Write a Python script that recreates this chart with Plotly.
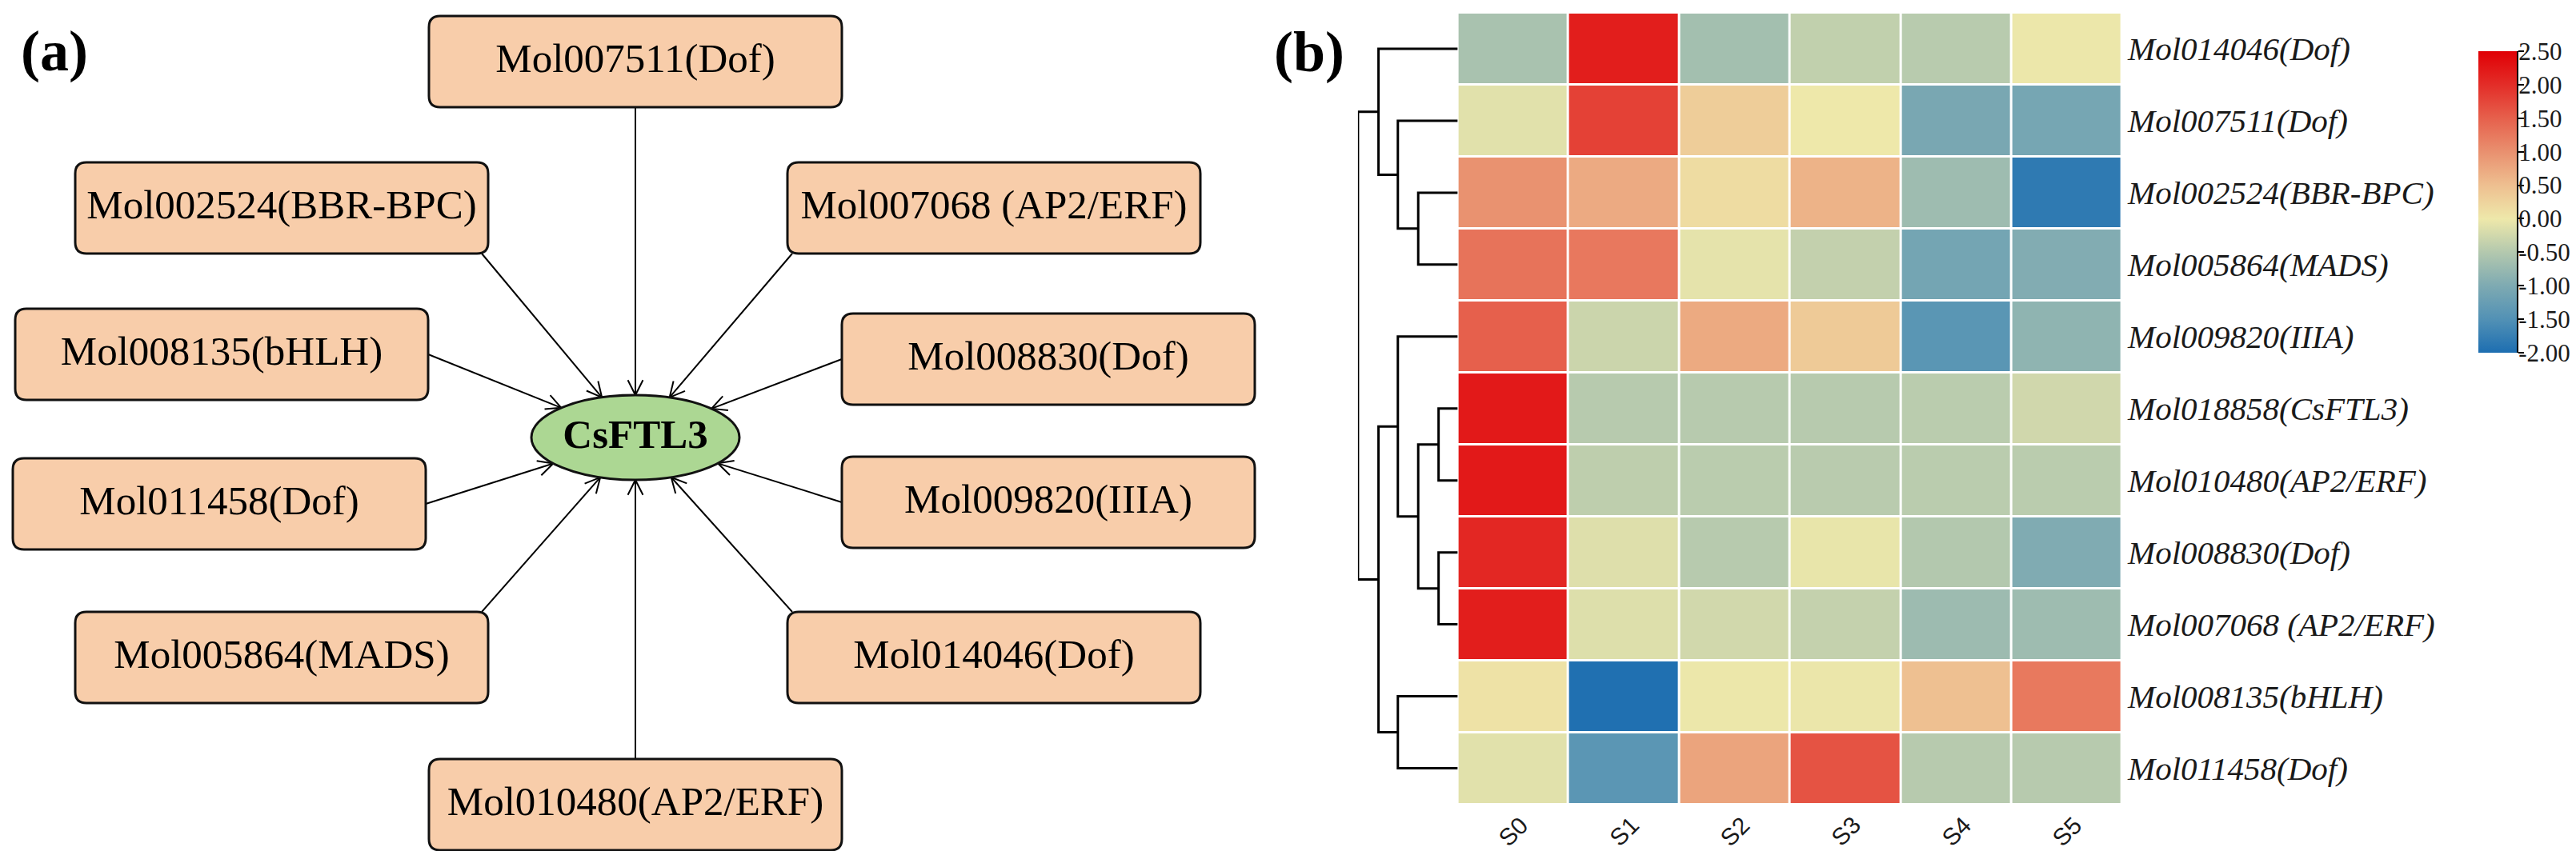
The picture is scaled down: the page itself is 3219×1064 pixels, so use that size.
import plotly.graph_objects as go

W, H = 3219, 1064

# ---- panel (a): regulators pointing at CsFTL3 ----
hub = "CsFTL3"
regulators = [
    "Mol007511(Dof)", "Mol002524(BBR-BPC)", "Mol007068 (AP2/ERF)",
    "Mol008135(bHLH)", "Mol008830(Dof)", "Mol011458(Dof)",
    "Mol009820(IIIA)", "Mol005864(MADS)", "Mol014046(Dof)",
    "Mol010480(AP2/ERF)",
]

# ---- panel (b): clustered expression heatmap ----
samples = ["S0", "S1", "S2", "S3", "S4", "S5"]
genes = [
    "Mol014046(Dof)", "Mol007511(Dof)", "Mol002524(BBR-BPC)", "Mol005864(MADS)",
    "Mol009820(IIIA)", "Mol018858(CsFTL3)", "Mol010480(AP2/ERF)", "Mol008830(Dof)",
    "Mol007068 (AP2/ERF)", "Mol008135(bHLH)", "Mol011458(Dof)",
]
expr = [
    [-0.60, 2.17, -0.65, -0.38, -0.46, -0.02],
    [-0.11, 1.80, 0.33, 0.00, -1.06, -1.09],
    [0.98, 0.72, 0.15, 0.63, -0.70, -1.83],
    [1.30, 1.25, -0.08, -0.37, -1.11, -0.96],
    [1.50, -0.30, 0.73, 0.37, -1.41, -0.84],
    [2.22, -0.47, -0.47, -0.47, -0.44, -0.26],
    [2.22, -0.41, -0.44, -0.45, -0.44, -0.44],
    [2.07, -0.14, -0.47, -0.05, -0.50, -0.98],
    [2.17, -0.15, -0.25, -0.36, -0.71, -0.70],
    [0.07, -1.97, -0.02, -0.03, 0.49, 1.24],
    [-0.11, -1.40, 0.79, 1.63, -0.47, -0.47],
]
# row dendrogram: (left, right, height); leaves are row indices, new clusters numbered from 11
merges = [
    (5, 6, 0.96), (7, 8, 0.96), (2, 3, 1.98), (11, 12, 1.98),
    (1, 13, 3.0), (4, 14, 3.0), (9, 10, 3.0),
    (0, 15, 3.97), (16, 17, 3.97), (18, 19, 5.0),
]
cbar_ticks = [2.5, 2.0, 1.5, 1.0, 0.5, 0.0, -0.5, -1.0, -1.5, -2.0]

colorscale = [
    [0.000, "#1d6eb1"], [0.111, "#5291b5"], [0.222, "#7eaab2"],
    [0.333, "#b3c8ae"], [0.444, "#eee8aa"], [0.556, "#eebf90"],
    [0.667, "#e9906f"], [0.778, "#e6604c"], [0.889, "#e32d28"],
    [1.000, "#e00005"],
]

# ---- layout of the network (pixel canvas) ----
node_xy = [(786, 69), (344, 252), (1234, 252), (269, 435), (1302, 441),
           (266, 622), (1302, 620), (344, 814), (1234, 814), (786, 998)]
node_side = ["b", "br", "bl", "r", "l", "r", "l", "tr", "tl", "t"]
HUB_XY = (786, 539)
HUB_R = (130, 53)
BOX_W, BOX_H = 516, 114

SERIF = "Liberation Serif"


def anchor_pt(cx, cy, side):
    x0, x1 = cx - BOX_W / 2, cx + BOX_W / 2
    y0, y1 = cy - BOX_H / 2, cy + BOX_H / 2
    return {"b": (cx, y1), "t": (cx, y0), "r": (x1, cy), "l": (x0, cy),
            "br": (x1 - 8, y1), "bl": (x0 + 6, y1),
            "tr": (x1 - 8, y0), "tl": (x0 + 6, y0)}[side]


def hub_edge(px, py):
    hx, hy = HUB_XY
    rx, ry = HUB_R
    dx, dy = px - hx, py - hy
    t = 1 / ((dx / rx) ** 2 + (dy / ry) ** 2) ** 0.5
    return hx + dx * t, hy + dy * t


def rounded_box(cx, cy, w, h, r=14):
    x0, x1, y0, y1 = cx - w / 2, cx + w / 2, cy - h / 2, cy + h / 2
    return (f"M{x0 + r},{y0} L{x1 - r},{y0} Q{x1},{y0} {x1},{y0 + r} "
            f"L{x1},{y1 - r} Q{x1},{y1} {x1 - r},{y1} L{x0 + r},{y1} "
            f"Q{x0},{y1} {x0},{y1 - r} L{x0},{y0 + r} Q{x0},{y0} {x0 + r},{y0} Z")


shapes = []
for (cx, cy), side in zip(node_xy, node_side):
    sx, sy = anchor_pt(cx, cy, side)
    ex, ey = hub_edge(sx, sy)
    shapes.append(dict(type="line", x0=sx, y0=sy, x1=ex, y1=ey, xref="x3", yref="y3",
                       layer="below", line=dict(color="black", width=2)))
    # open arrow head
    L = ((ex - sx) ** 2 + (ey - sy) ** 2) ** 0.5
    ux, uy = (ex - sx) / L, (ey - sy) / L
    for s in (1, -1):
        c, sn = 0.89, 0.45 * s
        bx = -(ux * c - uy * sn) * 21
        by = -(ux * sn + uy * c) * 21
        shapes.append(dict(type="line", x0=ex, y0=ey, x1=ex + bx, y1=ey + by,
                           xref="x3", yref="y3", layer="below",
                           line=dict(color="black", width=2)))

for cx, cy in node_xy:
    shapes.append(dict(type="path", path=rounded_box(cx, cy, BOX_W, BOX_H), xref="x3", yref="y3",
                       layer="below", fillcolor="#f8cdaa", line=dict(color="#111111", width=3)))

shapes.append(dict(type="circle", xref="x3", yref="y3", layer="below",
                   x0=HUB_XY[0] - HUB_R[0], x1=HUB_XY[0] + HUB_R[0],
                   y0=HUB_XY[1] - HUB_R[1], y1=HUB_XY[1] + HUB_R[1],
                   fillcolor="#acd793", line=dict(color="#111111", width=3)))

# ---- heatmap geometry ----
hm_x0, hm_x1 = 1813.6, 2644
hm_top, hm_bot = 8, 997.5
dend_x0 = 1688.9
cb_left, cb_thick, cb_top, cb_len = 3089, 48, 56, 377

# dendrogram segments
n = len(genes)
pos = {i: (0.0, float(i)) for i in range(n)}
dx, dy = [], []
for k, (a, b, h) in enumerate(merges):
    (ha, ya), (hb, yb) = pos[a], pos[b]
    dx += [ha, h, h, hb, None]
    dy += [ya, ya, yb, yb, None]
    pos[n + k] = (h, (ya + yb) / 2)

fig = go.Figure()

fig.add_trace(go.Heatmap(
    z=expr, x=list(range(len(samples))), y=list(range(n)),
    colorscale=colorscale, zmin=min(cbar_ticks), zmax=max(cbar_ticks), xgap=3, ygap=3,
    hoverinfo="skip",
    colorbar=dict(
        x=cb_left / W, xanchor="left", y=1 - cb_top / H, yanchor="top",
        len=cb_len / H, lenmode="fraction", thickness=cb_thick, xpad=0, ypad=0,
        outlinewidth=0, ticks="", showticklabels=False,
    ),
))

# scale axis for the colour bar (ticks, labels and right-hand line)
fig.add_trace(go.Scatter(
    x=[0.5] * len(cbar_ticks), y=cbar_ticks, xaxis="x4", yaxis="y4", mode="markers",
    marker=dict(opacity=0), hoverinfo="skip",
))

fig.add_trace(go.Scatter(
    x=dx, y=dy, xaxis="x2", yaxis="y", mode="lines",
    line=dict(color="black", width=3), hoverinfo="skip",
))

fig.add_trace(go.Scatter(
    x=[p[0] for p in node_xy], y=[p[1] for p in node_xy], xaxis="x3", yaxis="y3",
    mode="text", text=regulators, textposition="middle center",
    textfont=dict(family=SERIF, size=51, color="black"), hoverinfo="skip",
))
fig.add_trace(go.Scatter(
    x=[HUB_XY[0]], y=[HUB_XY[1]], xaxis="x3", yaxis="y3",
    mode="text", text=[f"<b>{hub}</b>"], textposition="middle center",
    textfont=dict(family=SERIF, size=51, color="black"), hoverinfo="skip",
))

annotations = [
    dict(text="<b>(a)</b>", x=60, y=56, xref="x3", yref="y3", showarrow=False,
         font=dict(family=SERIF, size=72, color="black")),
    dict(text="<b>(b)</b>", x=1628, y=57, xref="x3", yref="y3", showarrow=False,
         font=dict(family=SERIF, size=72, color="black")),
]
for i, s in enumerate(samples):
    annotations.append(dict(text=s, x=i, xref="x", y=1031, yref="y3", showarrow=False,
                            textangle=-45, font=dict(family="Liberation Sans", size=30, color="#1a1a1a")))

fig.update_layout(
    width=W, height=H,
    margin=dict(l=0, r=0, t=0, b=0, autoexpand=False),
    paper_bgcolor="white", plot_bgcolor="rgba(0,0,0,0)",
    showlegend=False,
    shapes=shapes,
    annotations=annotations,
    xaxis=dict(domain=[hm_x0 / W, hm_x1 / W], range=[-0.5, len(samples) - 0.5],
               showticklabels=False, showgrid=False, zeroline=False, ticks="", anchor="y"),
    yaxis=dict(domain=[1 - hm_bot / H, 1 - hm_top / H], range=[n - 0.5, -0.5],
               side="right", anchor="x", tickvals=list(range(n)),
               ticktext=genes, ticks="", ticklabelstandoff=6, showgrid=False, zeroline=False,
               tickfont=dict(family=SERIF, size=41, color="#1a1a1a", style="italic")),
    xaxis2=dict(domain=[dend_x0 / W, hm_x0 / W], range=[5.0, 0], anchor="y",
                visible=False),
    xaxis3=dict(domain=[0, 1], range=[0, W], anchor="y3", visible=False),
    yaxis3=dict(domain=[0, 1], range=[H, 0], anchor="x3", visible=False),
    xaxis4=dict(domain=[cb_left / W, (cb_left + cb_thick) / W], range=[0, 1], anchor="y4",
                visible=False),
    yaxis4=dict(domain=[1 - (cb_top + cb_len) / H, 1 - cb_top / H],
                range=[min(cbar_ticks), max(cbar_ticks)], anchor="x4", side="right",
                showline=True, linecolor="black", linewidth=2, showgrid=False, zeroline=False,
                ticks="outside", ticklen=7, tickwidth=2, tickcolor="black",
                tickvals=cbar_ticks, ticktext=[f"{v:.2f}" for v in cbar_ticks],
                ticklabelstandoff=-13,
                tickfont=dict(family=SERIF, size=31, color="#1a1a1a")),
)

fig.write_html("out.html")
